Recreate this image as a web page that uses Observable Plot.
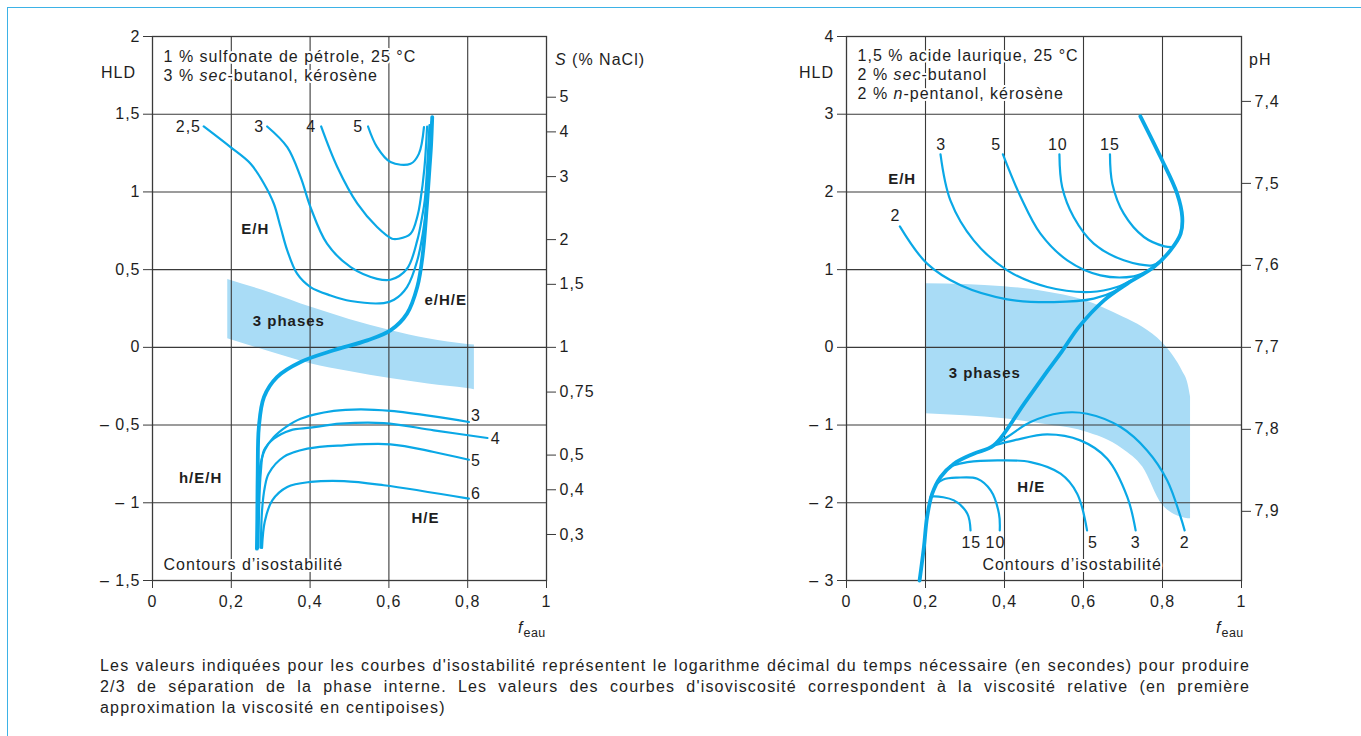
<!DOCTYPE html>
<html>
<head>
<meta charset="utf-8">
<script src="https://cdn.jsdelivr.net/npm/d3@7"></script>
<script src="https://cdn.jsdelivr.net/npm/@observablehq/plot@0.6"></script>
<style>
  body { margin: 0; background: white; }
  #wrap { position: relative; width: 1361px; height: 736px; background: white; overflow: hidden;
          font-family: "Liberation Sans", Arial, sans-serif; color: #1e1e1e; }
  .plot { position: absolute; top: 0; }
  .lab { position: absolute; font-size: 16px; letter-spacing: 1px; line-height: 18px; transform: translate(0, -50%); white-space: nowrap; }
  .lab sub { font-size: 12.5px; vertical-align: -4px; letter-spacing: 0.5px; }
  #frameline { position: absolute; left: 7px; top: 7px; right: -2px; bottom: -2px;
               border-top: 1.5px solid #3db2e6; border-left: 1.5px solid #3db2e6; pointer-events: none; }
  #caption { position: absolute; left: 100px; top: 655px; width: 1150px; font-size: 16px; letter-spacing: 1.2px; line-height: 21px; color: #1e1e1e; }
  #caption div { text-align: justify; text-align-last: justify; white-space: nowrap; }
  #caption div.last { text-align-last: left; }
</style>
</head>
<body>
<div id="wrap">
  <div id="p1" class="plot" style="left:0px"></div>
  <div id="p2" class="plot" style="left:680px"></div>
  <div class="lab" style="left:101px;top:73px">HLD</div>
  <div class="lab" style="left:555px;top:60px"><i>S</i> (% NaCl)</div>
  <div class="lab" style="left:518px;top:630px"><i>f</i><sub>eau</sub></div>
  <div class="lab" style="left:799px;top:73px">HLD</div>
  <div class="lab" style="left:1249px;top:60px">pH</div>
  <div class="lab" style="left:1216px;top:630px"><i>f</i><sub>eau</sub></div>
  <div id="caption">
    <div>Les valeurs indiquées pour les courbes d'isostabilité représentent le logarithme décimal du temps nécessaire (en secondes) pour produire</div>
    <div>2/3 de séparation de la phase interne. Les valeurs des courbes d'isoviscosité correspondent à la viscosité relative (en première</div>
    <div class="last">approximation la viscosité en centipoises)</div>
  </div>
  <div id="frameline"></div>
</div>
<script>
// ---------------- DATA ----------------
const xTicks = [0, 0.2, 0.4, 0.6, 0.8, 1];
const p1YTicks = [-1.5, -1, -0.5, 0, 0.5, 1, 1.5, 2];
const p1STicks = [5, 4, 3, 2, 1.5, 1, 0.75, 0.5, 0.4, 0.3];      // S (% NaCl), HLD = ln S
const p2YTicks = [-3, -2, -1, 0, 1, 2, 3, 4];
const p2PhTicks = [7.4, 7.5, 7.6, 7.7, 7.8, 7.9];
const phRef = 7.7, phSlope = 10.55;                                // HLD = (7.7 - pH) * 10.55

// Panel 1 : isostability contours, E/H side (points [f, HLD])
const p1Up25 = [[0.130,1.421],[0.198,1.288],[0.249,1.181],[0.283,1.053],[0.308,0.924],[0.325,0.774],[0.342,0.624],[0.367,0.474],[0.401,0.388],[0.452,0.334],[0.503,0.298],[0.587,0.285],[0.613,0.306],[0.646,0.388],[0.672,0.559],[0.690,0.800],[0.699,1.050],[0.705,1.300],[0.708,1.450]];
const p1Up3 = [[0.291,1.421],[0.342,1.288],[0.376,1.095],[0.401,0.902],[0.443,0.667],[0.503,0.516],[0.570,0.441],[0.604,0.435],[0.646,0.506],[0.672,0.688],[0.685,0.850],[0.691,0.945],[0.698,1.200],[0.703,1.430]];
const p1Up4 = [[0.428,1.421],[0.469,1.160],[0.520,0.924],[0.570,0.774],[0.608,0.699],[0.625,0.699],[0.655,0.731],[0.673,0.850],[0.680,0.945],[0.690,1.150],[0.697,1.420]];
const p1Up5 = [[0.547,1.421],[0.570,1.288],[0.604,1.192],[0.655,1.181],[0.676,1.245],[0.689,1.417]];
// Panel 1 : e/H/E – h/E/H inversion line
const p1Thick = [[0.265,-1.295],[0.266,-1.100],[0.267,-0.812],[0.270,-0.512],[0.283,-0.319],[0.316,-0.191],[0.376,-0.094],[0.460,-0.019],[0.545,0.045],[0.604,0.109],[0.646,0.217],[0.672,0.388],[0.686,0.600],[0.696,0.900],[0.703,1.150],[0.707,1.300],[0.710,1.481]];
// Panel 1 : isostability contours, H/E side
const p1Lo3 = [[0.267,-1.100],[0.268,-0.950],[0.272,-0.780],[0.285,-0.660],[0.308,-0.577],[0.340,-0.510],[0.376,-0.459],[0.460,-0.409],[0.528,-0.399],[0.604,-0.409],[0.714,-0.444],[0.803,-0.480]];
const p1Lo4 = [[0.269,-1.290],[0.271,-1.000],[0.275,-0.800],[0.283,-0.662],[0.308,-0.588],[0.350,-0.534],[0.401,-0.517],[0.477,-0.491],[0.587,-0.487],[0.714,-0.534],[0.850,-0.583]];
const p1Lo5 = [[0.275,-1.290],[0.278,-1.050],[0.285,-0.900],[0.295,-0.812],[0.333,-0.705],[0.393,-0.652],[0.486,-0.630],[0.604,-0.624],[0.714,-0.673],[0.803,-0.723]];
const p1Lo6 = [[0.278,-1.290],[0.285,-1.120],[0.304,-0.984],[0.342,-0.898],[0.401,-0.866],[0.486,-0.860],[0.587,-0.887],[0.803,-0.973]];
// Panel 1 : 3-phase band
const p1PhaseX      = [0.191, 0.300, 0.401, 0.500, 0.604, 0.700, 0.800, 0.817];
const p1PhaseTop    = [0.437, 0.350, 0.259, 0.180, 0.109, 0.055, 0.019, 0.015];
const p1PhaseBottom = [0.056,-0.030,-0.105,-0.155,-0.201,-0.235,-0.265,-0.272];
// Panel 1 labels
const p1CurveLabels = [["2,5",0.091,1.421],["3",0.271,1.421],["4",0.403,1.421],["5",0.522,1.421],["3",0.821,-0.444],["4",0.871,-0.592],["5",0.821,-0.733],["6",0.821,-0.945]];
const p1Regions = [["E/H",0.261,0.763],["3 phases",0.346,0.169],["e/H/E",0.744,0.302],["h/E/H",0.122,-0.842],["H/E",0.693,-1.100]];
const p1Notes = [["1 % sulfonate de pétrole, 25 °C",0.028,1.871],["3 % *sec*-butanol, kérosène",0.028,1.749],["Contours d’isostabilité",0.028,-1.402]];

// Panel 2 : isostability contours, E/H side
const p2Up2 = [[0.135,1.557],[0.204,1.077],[0.289,0.798],[0.407,0.618],[0.525,0.583],[0.626,0.627],[0.685,0.734],[0.702,0.790]];
const p2Up3 = [[0.238,2.484],[0.263,1.892],[0.322,1.377],[0.407,0.991],[0.508,0.776],[0.618,0.712],[0.685,0.776],[0.720,0.860]];
const p2Up5 = [[0.396,2.484],[0.441,1.935],[0.491,1.463],[0.559,1.120],[0.643,0.927],[0.727,0.914],[0.760,0.975]];
const p2Up10 = [[0.539,2.484],[0.546,2.063],[0.575,1.677],[0.626,1.335],[0.702,1.120],[0.774,1.055],[0.792,1.100]];
const p2Up15 = [[0.667,2.484],[0.673,2.106],[0.702,1.720],[0.753,1.420],[0.805,1.300],[0.826,1.290]];
// Panel 2 : inversion line
const p2Thick = [[0.185,-3.000],[0.196,-2.570],[0.204,-2.184],[0.217,-1.883],[0.238,-1.669],[0.272,-1.497],[0.322,-1.368],[0.373,-1.261],[0.449,-0.730],[0.508,-0.310],[0.545,-0.055],[0.588,0.260],[0.652,0.605],[0.711,0.820],[0.778,1.033],[0.820,1.248],[0.846,1.463],[0.850,1.677],[0.837,1.978],[0.795,2.449],[0.744,2.973]];
// Panel 2 : isostability contours, H/E side
const p2Lo2 = [[0.373,-1.261],[0.407,-1.154],[0.466,-0.961],[0.542,-0.845],[0.609,-0.854],[0.694,-1.025],[0.761,-1.326],[0.812,-1.712],[0.846,-2.184],[0.856,-2.355]];
const p2Lo3 = [[0.373,-1.261],[0.424,-1.197],[0.508,-1.120],[0.592,-1.197],[0.660,-1.433],[0.711,-1.927],[0.732,-2.355]];
const p2Lo5 = [[0.262,-1.530],[0.306,-1.476],[0.382,-1.454],[0.466,-1.476],[0.542,-1.626],[0.584,-1.883],[0.609,-2.355]];
const p2Lo10 = [[0.226,-1.770],[0.245,-1.700],[0.280,-1.677],[0.331,-1.690],[0.365,-1.840],[0.386,-2.141],[0.388,-2.355]];
const p2Lo15 = [[0.212,-1.930],[0.221,-1.918],[0.272,-1.969],[0.306,-2.141],[0.314,-2.355]];
// Panel 2 : 3-phase region
const p2PhaseX      = [0.200, 0.300, 0.400, 0.500, 0.600, 0.700, 0.750, 0.800, 0.830, 0.850, 0.865, 0.871];
const p2PhaseTop    = [0.820, 0.810, 0.780, 0.720, 0.610, 0.390, 0.260, 0.060,-0.130,-0.300,-0.480,-0.640];
const p2PhaseBottom = [-0.854,-0.880,-0.920,-0.990,-1.080,-1.310,-1.540,-2.030,-2.150,-2.190,-2.205,-2.205];
// Panel 2 labels
const p2CurveLabels = [["2",0.124,1.686],["3",0.240,2.600],["5",0.379,2.600],["10",0.535,2.600],["15",0.667,2.600],["15",0.316,-2.514],["10",0.377,-2.514],["5",0.624,-2.514],["3",0.732,-2.514],["2",0.856,-2.514]];
const p2Regions = [["E/H",0.141,2.162],["3 phases",0.350,-0.330],["H/E",0.468,-1.798]];
const p2Notes = [["1,5 % acide laurique, 25 °C",0.028,3.745],["2 % *sec*-butanol",0.028,3.500],["2 % *n*-pentanol, kérosène",0.028,3.256],["Contours d’isostabilité",0.344,-2.797]];

// ---------------- HELPERS ----------------
const LINE = "#0aa8e6", FILL = "#a9dcf6", GRID = "#3a3a3a", INK = "#1e1e1e";
const FONT = "'Liberation Sans', Arial, sans-serif";
const toRows = (curves) => curves.flatMap(([id, pts]) => pts.map(([x, y]) => ({id, x, y})));
const toLabels = (arr) => arr.map(([t, x, y]) => ({t, x, y}));
const dec = (d) => String(+d.toFixed(2)).replace(".", ",");
const signed = (d) => d < 0 ? "– " + dec(-d) : dec(d);

function richify(svg) {
  const ns = "http://www.w3.org/2000/svg";
  svg.querySelectorAll("text").forEach(t => {
    if (!t.textContent.includes("*")) return;
    const parts = t.textContent.split("*");
    t.textContent = "";
    parts.forEach((p, i) => {
      if (!p) return;
      const ts = document.createElementNS(ns, "tspan");
      if (i % 2) ts.setAttribute("font-style", "italic");
      ts.textContent = p;
      t.appendChild(ts);
    });
  });
  return svg;
}

function panel({width, marginLeft, marginRight, yDomain, yTicks, yGrid, rightTicks, rightFormat,
                phaseX, phaseTop, phaseBottom, thin, thick, curveLabels, regions, notes}) {
  const phase = phaseX.map((x, i) => ({x, top: phaseTop[i], bottom: phaseBottom[i]}));
  return richify(Plot.plot({
    width, height: 640, marginLeft, marginRight, marginTop: 36, marginBottom: 60,
    x: {domain: [0, 1]},
    y: {domain: yDomain},
    style: {fontFamily: FONT, fontSize: "16px", letterSpacing: "1px", color: INK, background: "transparent", overflow: "visible"},
    marks: [
      Plot.areaY(phase, {x: "x", y1: "bottom", y2: "top", fill: FILL, curve: "monotone-x"}),
      Plot.gridX({ticks: [0.2, 0.4, 0.6, 0.8], stroke: GRID, strokeOpacity: 1, strokeWidth: 1.1}),
      Plot.gridY({ticks: yGrid, stroke: GRID, strokeOpacity: 1, strokeWidth: 1.1}),
      Plot.frame({stroke: GRID, strokeWidth: 1.3}),
      Plot.axisX({ticks: xTicks, tickFormat: dec, tickSize: 8, tickPadding: 7, label: null, stroke: GRID, fontSize: 16}),
      Plot.axisY({anchor: "left", ticks: yTicks, tickFormat: signed, tickSize: 9, tickPadding: 3, label: null, stroke: GRID, fontSize: 16}),
      Plot.axisY({anchor: "right", ticks: rightTicks, tickFormat: rightFormat, tickSize: 9, tickPadding: 4, label: null, stroke: GRID, fontSize: 16}),
      Plot.line(toRows(thin), {x: "x", y: "y", z: "id", stroke: LINE, strokeWidth: 2.2, curve: "catmull-rom"}),
      Plot.line(toRows([["thick", thick]]), {x: "x", y: "y", stroke: LINE, strokeWidth: 3.8, curve: "catmull-rom"}),
      Plot.text(toLabels(notes), {x: "x", y: "y", text: "t", textAnchor: "start", fill: INK, stroke: "white", strokeWidth: 4, fontSize: 16}),
      Plot.text(toLabels(curveLabels), {x: "x", y: "y", text: "t", fill: INK, fontSize: 16}),
      Plot.text(toLabels(regions), {x: "x", y: "y", text: "t", fill: INK, fontSize: 15, fontWeight: "bold"})
    ]
  }));
}

// ---------------- PANEL 1 ----------------
document.getElementById("p1").appendChild(panel({
  width: 680, marginLeft: 152, marginRight: 134,
  yDomain: [-1.5, 2], yTicks: p1YTicks, yGrid: [-1, -0.5, 0, 0.5, 1, 1.5],
  rightTicks: p1STicks.map(Math.log),
  rightFormat: (d) => dec(Math.exp(d)),
  phaseX: p1PhaseX, phaseTop: p1PhaseTop, phaseBottom: p1PhaseBottom,
  thin: [["2,5", p1Up25], ["3", p1Up3], ["4", p1Up4], ["5", p1Up5], ["l3", p1Lo3], ["l4", p1Lo4], ["l5", p1Lo5], ["l6", p1Lo6]],
  thick: p1Thick, curveLabels: p1CurveLabels, regions: p1Regions, notes: p1Notes
}));

// ---------------- PANEL 2 ----------------
document.getElementById("p2").appendChild(panel({
  width: 681, marginLeft: 166, marginRight: 120,
  yDomain: [-3, 4], yTicks: p2YTicks, yGrid: [-2, -1, 0, 1, 2, 3],
  rightTicks: p2PhTicks.map(p => (phRef - p) * phSlope),
  rightFormat: (d) => (phRef - d / phSlope).toFixed(1).replace(".", ","),
  phaseX: p2PhaseX, phaseTop: p2PhaseTop, phaseBottom: p2PhaseBottom,
  thin: [["2", p2Up2], ["3", p2Up3], ["5", p2Up5], ["10", p2Up10], ["15", p2Up15], ["l2", p2Lo2], ["l3", p2Lo3], ["l5", p2Lo5], ["l10", p2Lo10], ["l15", p2Lo15]],
  thick: p2Thick, curveLabels: p2CurveLabels, regions: p2Regions, notes: p2Notes
}));
</script>
</body>
</html>
